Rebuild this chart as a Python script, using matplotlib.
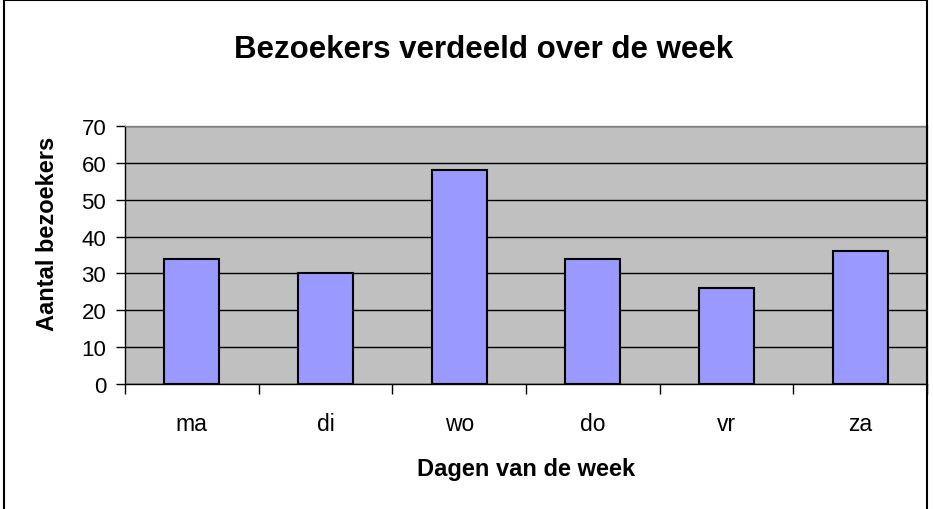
import matplotlib
matplotlib.use("Agg")
import matplotlib.pyplot as plt
from matplotlib.patches import Rectangle

days = ["ma", "di", "wo", "do", "vr", "za"]
visitors = [34, 30, 58, 34, 26, 36]
yticks = [0, 10, 20, 30, 40, 50, 60, 70]

plt.rcParams['font.family'] = ['Liberation Sans', 'DejaVu Sans']

W, H = 933, 510
fig = plt.figure(figsize=(W / 100, H / 100), dpi=100)
fig.patch.set_facecolor("white")

# outer chart border (bottom extends beyond image)
fig.patches.append(Rectangle((4 / W, -0.05), (927 - 4) / W, (H - 1) / H + 0.05,
                             transform=fig.transFigure, fill=False,
                             edgecolor="black", linewidth=1.5))

left, right, top, bottom = 125, 927, 127, 385
ax = fig.add_axes([left / W, 1 - bottom / H, (right - left) / W, (bottom - top) / H])
ax.set_facecolor("#C0C0C0")

x = list(range(len(days)))
ax.bar(x, visitors, width=0.41, color="#9999FF", edgecolor="black", linewidth=1.5, zorder=3)

ax.set_xlim(-0.5, len(days) - 0.5)
ax.set_ylim(0, 70)
ax.set_yticks(yticks)
ax.set_yticklabels([str(v) for v in yticks], fontsize=16)
ax.yaxis.grid(True, color="black", linewidth=1.0, zorder=1)
ax.set_axisbelow(True)

ax.set_xticks(x)
ax.set_xticklabels(days, fontsize=16.5)
ax.set_xticks([i - 0.5 for i in range(len(days) + 1)], minor=True)
ax.tick_params(axis="x", which="major", length=0, pad=20)
ax.tick_params(axis="x", which="minor", length=7, width=1, color="black", direction="out")
ax.tick_params(axis="y", length=6.5, width=1, direction="out", pad=7)

for s in ["top", "right"]:
    ax.spines[s].set_color("#808080")
    ax.spines[s].set_linewidth(1)
for s in ["left", "bottom"]:
    ax.spines[s].set_color("black")
    ax.spines[s].set_linewidth(1)

fig.text(526 / W, 1 - 470 / H, "Dagen van de week", ha="center", va="center",
         fontsize=17, fontweight="bold")
fig.text(48 / W, 1 - 234 / H, "Aantal bezoekers", ha="center", va="center",
         rotation=90, fontsize=17, fontweight="bold")

fig.text((232 + 735) / 2 / W, 1 - 50 / H, "Bezoekers verdeeld over de week",
         ha="center", va="center", fontsize=22.5, fontweight="bold")

fig.savefig("out.png", dpi=100)
